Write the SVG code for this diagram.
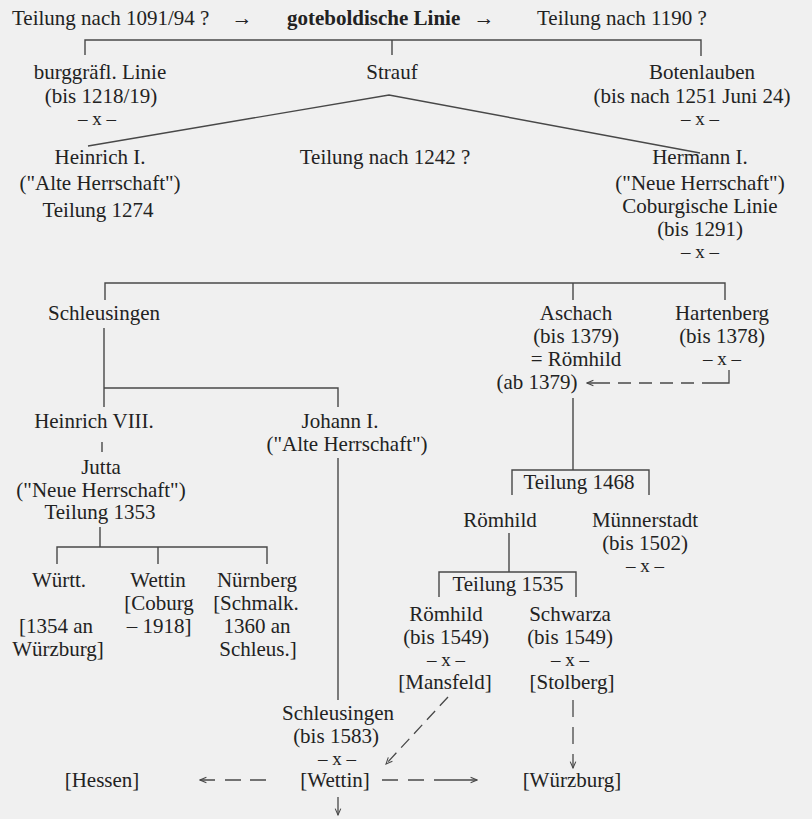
<svg xmlns="http://www.w3.org/2000/svg" width="812" height="819" viewBox="0 0 812 819">
<style>
text{font-family:"Liberation Serif","Times New Roman",serif;font-size:21px;fill:#222;text-anchor:middle}
.s{text-anchor:start}
.b{font-weight:bold}
.x{font-size:19px}
.ln{fill:none;stroke:#484848;stroke-width:1.4}
.dl{fill:none;stroke:#484848;stroke-width:1.3}
.dd{stroke-dasharray:12 7}
.dv{stroke-dasharray:17 10}
</style>
<defs>
<marker id="ah" viewBox="0 0 10 10" refX="9" refY="5" markerWidth="8" markerHeight="8" markerUnits="userSpaceOnUse" orient="auto-start-reverse">
<path d="M1,1.5 L9,5 L1,8.5" fill="none" stroke="#484848" stroke-width="1.3"/>
</marker>
</defs>
<rect width="812" height="819" fill="#f0f0f0"/>

<g id="connectors">
<path class="ln" d="M85,55 V40 H701 V56 M392,40 V55"/>
<path class="ln" d="M88,146 L389,95 L700,153"/>
<path class="ln" d="M105,300 V283 H725 V300 M573,283 V300"/>
<path class="ln" d="M104,328 V407 M104,388 H338 V407"/>
<path class="ln" d="M102,442 V452"/>
<path class="ln" d="M100,527 V547 M57,564 V547 H267 V564 M158,547 V564"/>
<path class="ln" d="M338,458 V700"/>
<path class="dl" marker-end="url(#ah)" d="M729,370 V383 H702 M694,383 H681 M673,383 H660 M652,383 H639 M631,383 H618 M610,383 H587"/>
<path class="ln" d="M573,398 V470 M512,495 V470 H649 V495"/>
<path class="ln" d="M509,533 V572 M439,597 V572 H576 V597"/>
<path class="dl dd" marker-end="url(#ah)" d="M448,697 L386,764"/>
<path class="dl dv" marker-end="url(#ah)" d="M573,700 V768"/>
<path class="dl" marker-end="url(#ah)" d="M338,797 V815"/>
<path class="dl" marker-start="url(#ah)" d="M200,780 H215 M225,780 H241 M250,780 H266"/>
<path class="dl" marker-end="url(#ah)" d="M382,780 H398 M408,780 H424 M434,780 H477"/>
</g>

<g id="title">
<text class="s" x="12" y="25">Teilung nach 1091/94 ?</text>
<text x="242" y="25">→</text>
<text class="s b" x="287" y="25">goteboldische Linie</text>
<text x="484" y="25">→</text>
<text class="s" x="537" y="25">Teilung nach 1190 ?</text>
</g>

<g id="burggraefl">
<text x="100" y="79">burggräfl. Linie</text>
<text x="101" y="103">(bis 1218/19)</text>
<text class="x" x="97" y="125">– x –</text>
</g>
<g id="strauf"><text x="392" y="79">Strauf</text></g>
<g id="botenlauben">
<text x="702" y="79">Botenlauben</text>
<text x="692" y="103">(bis nach 1251 Juni 24)</text>
<text class="x" x="700" y="125">– x –</text>
</g>

<g id="heinrich1">
<text x="100" y="164">Heinrich I.</text>
<text x="100" y="190">("Alte Herrschaft")</text>
</g>
<g id="teilung1242"><text x="385" y="164">Teilung nach 1242 ?</text></g>
<g id="hermann1">
<text x="700" y="164">Hermann I.</text>
<text x="700" y="190">("Neue Herrschaft")</text>
<text x="700" y="213">Coburgische Linie</text>
<text x="700" y="236">(bis 1291)</text>
<text class="x" x="700" y="258">– x –</text>
</g>
<g id="teilung1274"><text x="98" y="217">Teilung 1274</text></g>

<g id="schleusingen1"><text x="104" y="320">Schleusingen</text></g>
<g id="aschach">
<text x="576" y="320">Aschach</text>
<text x="576" y="343">(bis 1379)</text>
<text x="576" y="366">= Römhild</text>
<text x="537" y="389">(ab 1379)</text>
</g>
<g id="hartenberg">
<text x="722" y="320">Hartenberg</text>
<text x="722" y="343">(bis 1378)</text>
<text class="x" x="722" y="365">– x –</text>
</g>

<g id="heinrich8"><text x="94" y="428">Heinrich VIII.</text></g>
<g id="johann1">
<text x="340" y="428">Johann I.</text>
<text x="347" y="451">("Alte Herrschaft")</text>
</g>
<g id="jutta">
<text x="101" y="474">Jutta</text>
<text x="101" y="497">("Neue Herrschaft")</text>
<text x="100" y="519">Teilung 1353</text>
</g>
<g id="wuertt">
<text x="59" y="587">Württ.</text>
<text x="56" y="633">[1354 an</text>
<text x="58" y="656">Würzburg]</text>
</g>
<g id="wettin1">
<text x="158" y="587">Wettin</text>
<text x="159" y="610">[Coburg</text>
<text x="159" y="633">– 1918]</text>
</g>
<g id="nuernberg">
<text x="257" y="587">Nürnberg</text>
<text x="256" y="610">[Schmalk.</text>
<text x="257" y="633">1360 an</text>
<text x="258" y="656">Schleus.]</text>
</g>

<g id="teilung1468"><text x="579" y="489">Teilung 1468</text></g>
<g id="roemhild1"><text x="500" y="527">Römhild</text></g>
<g id="muennerstadt">
<text x="645" y="527">Münnerstadt</text>
<text x="645" y="550">(bis 1502)</text>
<text class="x" x="645" y="572">– x –</text>
</g>
<g id="teilung1535"><text x="508" y="591">Teilung 1535</text></g>
<g id="roemhild2">
<text x="446" y="621">Römhild</text>
<text x="446" y="644">(bis 1549)</text>
<text class="x" x="446" y="666">– x –</text>
<text x="445" y="689">[Mansfeld]</text>
</g>
<g id="schwarza">
<text x="570" y="621">Schwarza</text>
<text x="570" y="644">(bis 1549)</text>
<text class="x" x="570" y="666">– x –</text>
<text x="572" y="689">[Stolberg]</text>
</g>

<g id="schleusingen2">
<text x="338" y="720">Schleusingen</text>
<text x="336" y="743">(bis 1583)</text>
<text class="x" x="337" y="765">– x –</text>
<text x="335" y="787">[Wettin]</text>
</g>
<g id="hessen"><text x="102" y="787">[Hessen]</text></g>
<g id="wuerzburg"><text x="572" y="787">[Würzburg]</text></g>
</svg>
